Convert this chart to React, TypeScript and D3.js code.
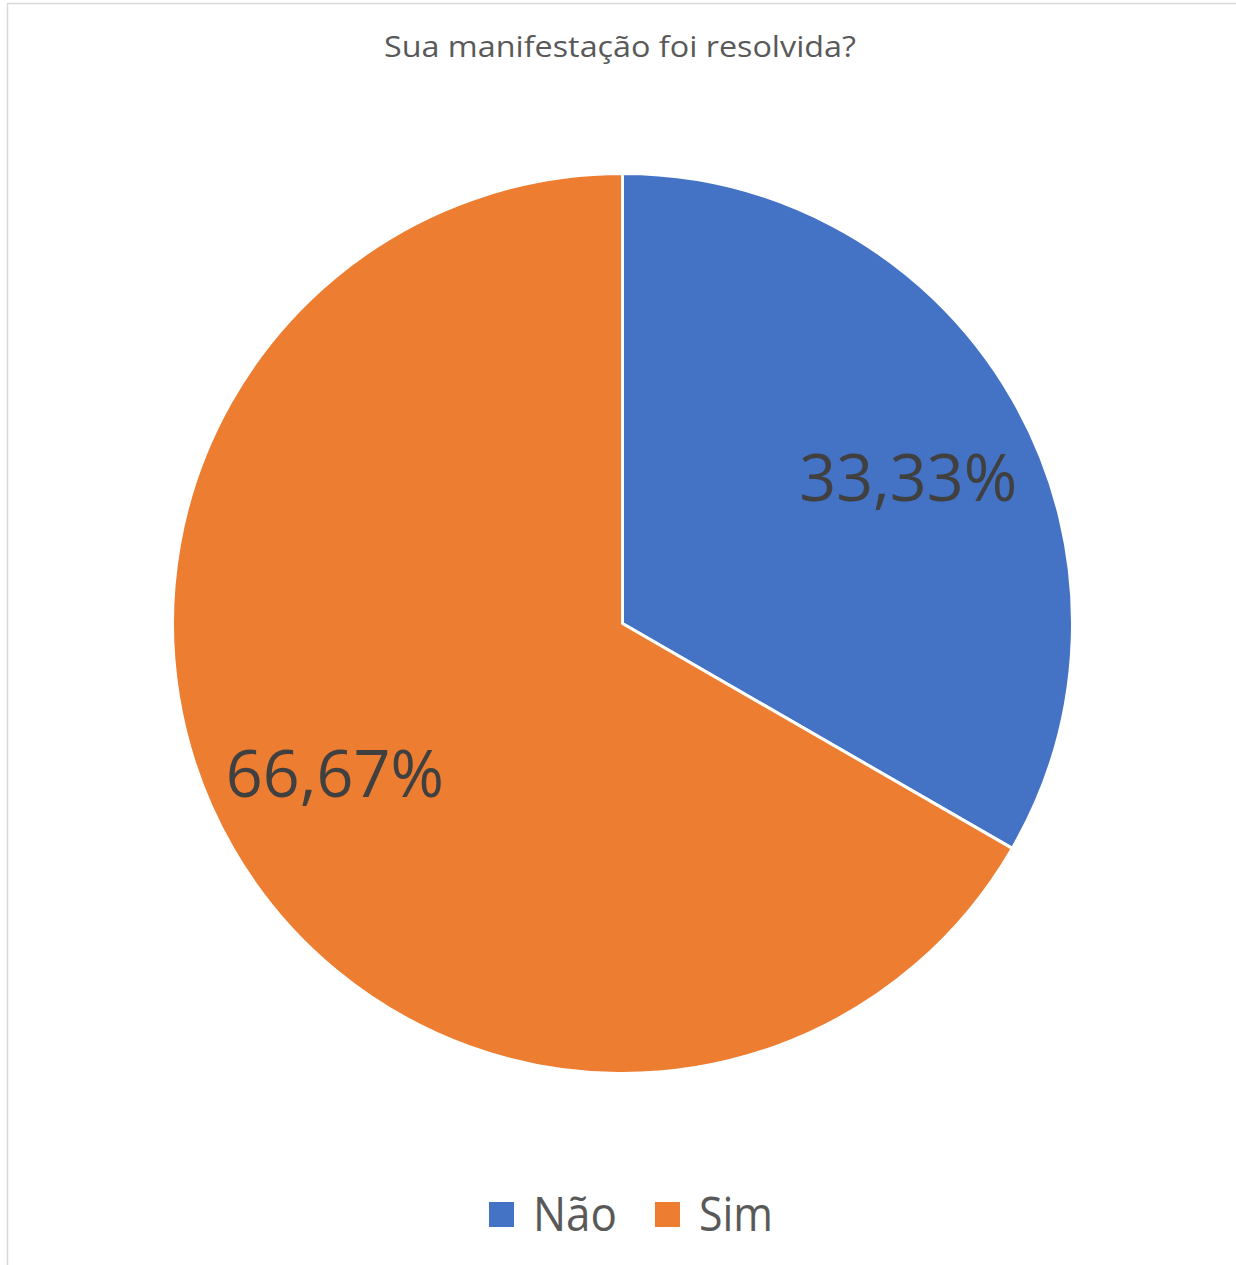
import { useEffect, useRef } from 'react'
import * as d3 from 'd3'

const W = 1236, H = 1265
const TITLE = 'Sua manifestação foi resolvida?'
const categories = ['Não', 'Sim']
const values = [33.33, 66.67]
const labels = ['33,33%', '66,67%']
const COLORS = ['#4472C4', '#ED7D31']
const FONT = '"Open Sans", "Noto Sans", sans-serif'

export default function App() {
  const svgRef = useRef<SVGSVGElement>(null)

  useEffect(() => {
    const svg = d3.select(svgRef.current)
    svg.selectAll('*').remove()

    // chart frame (right/bottom edges fall outside the picture)
    svg.append('rect')
      .attr('x', 7.5).attr('y', 3.5).attr('width', W + 20).attr('height', H + 20)
      .attr('fill', '#fff').attr('stroke', '#d9d9d9').attr('stroke-width', 1.5)

    svg.append('text')
      .attr('x', 620).attr('y', 57)
      .attr('text-anchor', 'middle')
      .attr('font-family', FONT).attr('font-size', 29)
      .attr('fill', '#595959')
      .attr('textLength', 472).attr('lengthAdjust', 'spacingAndGlyphs')
      .text(TITLE)

    const cx = 622.5, cy = 623.5, r = 450
    const pie = d3.pie<number>().sort(null).value((d) => d)
    const arcs = pie(values)
    const arc = d3.arc<d3.PieArcDatum<number>>().innerRadius(0).outerRadius(r)
    const labelArc = d3.arc<d3.PieArcDatum<number>>().innerRadius(r * 0.71).outerRadius(r * 0.71)

    const g = svg.append('g').attr('transform', `translate(${cx},${cy})`)
    g.selectAll('path').data(arcs).join('path')
      .attr('d', arc)
      .attr('fill', (_, i) => COLORS[i])
      .attr('stroke', '#fff').attr('stroke-width', 3).attr('stroke-linejoin', 'round')

    // nudges so labels sit where the original puts them
    const offsets = [[9, 14], [-11, -9]]
    g.selectAll('text.lbl').data(arcs).join('text')
      .attr('class', 'lbl')
      .attr('x', (d, i) => labelArc.centroid(d)[0] + offsets[i][0])
      .attr('y', (d, i) => labelArc.centroid(d)[1] + offsets[i][1] + 23)
      .attr('text-anchor', 'middle')
      .attr('font-family', FONT).attr('font-size', 66)
      .attr('fill', '#404040')
      .attr('textLength', 218).attr('lengthAdjust', 'spacingAndGlyphs')
      .text((_, i) => labels[i])

    // legend
    const legendX = [489, 655]
    const legendW = [84, 74]
    const lg = svg.append('g')
    categories.forEach((c, i) => {
      lg.append('rect')
        .attr('x', legendX[i]).attr('y', 1202).attr('width', 25).attr('height', 25)
        .attr('fill', COLORS[i])
      lg.append('text')
        .attr('x', legendX[i] + 44).attr('y', 1231)
        .attr('font-family', FONT).attr('font-size', 48)
        .attr('fill', '#595959')
        .attr('textLength', legendW[i]).attr('lengthAdjust', 'spacingAndGlyphs')
        .text(c)
    })
  }, [])

  return (
    <div style={{ position: 'absolute', left: 0, top: 0, width: W, height: H, background: '#fff' }}>
      <svg ref={svgRef} width={W} height={H} viewBox={`0 0 ${W} ${H}`} style={{ display: 'block' }} />
    </div>
  )
}
